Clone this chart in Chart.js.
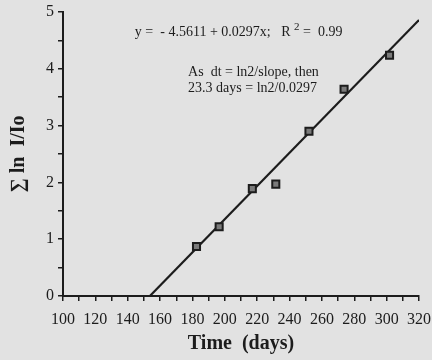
<!DOCTYPE html>
<html>
<head>
<meta charset="utf-8">
<script src="https://cdn.jsdelivr.net/npm/chart.js@4"></script>
<style>
  html, body { margin: 0; padding: 0; background: #e2e2e2; }
  #wrap { width: 432px; height: 360px; }
</style>
</head>
<body>
<div id="wrap"><canvas id="chart" width="432" height="360"></canvas></div>
<script>
// measured values (days, sum ln I/Io)
const days = [182.5, 196.5, 217, 231.5, 252, 273.7, 301.8];
const lnSum = [0.87, 1.22, 1.89, 1.97, 2.9, 3.64, 4.24];
// regression line ends as drawn
const fitDays = [153.7, 320];
const fitLn = [0, 4.86];
const xTicks = [100, 120, 140, 160, 180, 200, 220, 240, 260, 280, 300, 320];
const yTicks = [0, 1, 2, 3, 4, 5];

const ink = '#1c1c1c';
const serif = "'Liberation Serif', 'DejaVu Serif', serif";

const notes = {
  id: 'notes',
  beforeDraw(chart) {
    const c = chart.ctx;
    c.save();
    c.fillStyle = '#e2e2e2';
    c.fillRect(0, 0, chart.width, chart.height);
    c.restore();
  },
  afterDatasetsDraw(chart) {
    const c = chart.ctx;
    const x = chart.scales.x, y = chart.scales.y;
    c.save();
    c.fillStyle = ink;
    c.textBaseline = 'middle';
    c.font = '14px ' + serif;
    let px = x.getPixelForValue(144.4), py = y.getPixelForValue(4.64);
    let s = 'y =  - 4.5611 + 0.0297x;   R ';
    c.fillText(s, px, py);
    px += c.measureText(s).width;
    c.font = '11px ' + serif;
    c.fillText('2', px, py - 5);
    px += c.measureText('2').width;
    c.font = '14px ' + serif;
    c.fillText(' =  0.99', px, py);

    px = x.getPixelForValue(177.3);
    c.fillText('As  dt = ln2/slope, then', px, y.getPixelForValue(3.94));
    c.fillText('23.3 days = ln2/0.0297', px, y.getPixelForValue(3.66));
    c.restore();
  }
};

new Chart(document.getElementById('chart'), {
  type: 'scatter',
  data: {
    datasets: [{
      data: days.map((d, i) => ({ x: d, y: lnSum[i] })),
      pointStyle: 'rect',
      radius: 5,
      borderWidth: 2,
      borderColor: ink,
      backgroundColor: '#7a7a7a'
    }, {
      data: fitDays.map((d, i) => ({ x: d, y: fitLn[i] })),
      showLine: true,
      radius: 0,
      borderColor: ink,
      borderWidth: 2.2
    }]
  },
  options: {
    responsive: false,
    animation: false,
    layout: { autoPadding: false, padding: { top: 12, right: 13, left: 0, bottom: 0 } },
    plugins: { legend: { display: false }, tooltip: { enabled: false } },
    scales: {
      x: {
        min: 100, max: 320,
        afterFit(s) { s.height = 64; s.paddingLeft = 0; s.paddingRight = 0; },
        ticks: {
          stepSize: 10,
          autoSkip: false,
          maxRotation: 0,
          padding: 9,
          color: ink,
          font: { family: serif, size: 16 },
          callback: v => xTicks.includes(v) ? String(v) : ''
        },
        grid: { drawOnChartArea: false, tickLength: 5, color: ink, lineWidth: 1.5 },
        border: { color: ink, width: 2 },
        title: {
          display: true,
          text: 'Time  (days)',
          color: ink,
          font: { family: serif, size: 20, weight: 'bold' },
          padding: { top: 12 }
        }
      },
      y: {
        min: 0, max: 5,
        afterFit(s) { s.width = 63; s.paddingTop = 0; s.paddingBottom = 0; },
        ticks: {
          stepSize: 0.5,
          autoSkip: false,
          padding: 4,
          color: ink,
          font: { family: serif, size: 16 },
          callback: v => yTicks.includes(v) ? String(v) : ''
        },
        grid: { drawOnChartArea: false, tickLength: 5, color: ink, lineWidth: 1.5 },
        border: { color: ink, width: 2 },
        title: {
          display: true,
          text: '\u2211 ln  I/Io',
          color: ink,
          font: { family: serif, size: 20, weight: 'bold' },
          padding: { top: 7, bottom: 2 }
        }
      }
    }
  },
  plugins: [notes]
});
</script>
</body>
</html>
